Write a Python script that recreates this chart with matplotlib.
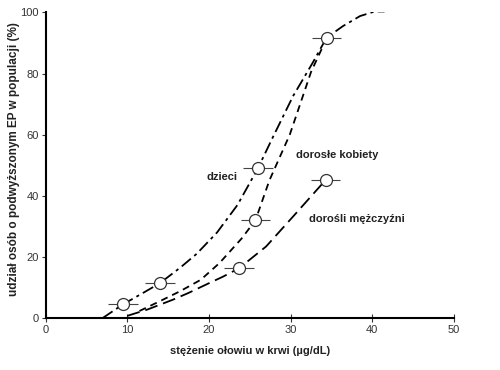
import matplotlib
matplotlib.use("Agg")
import matplotlib.pyplot as plt

# measured points (mean blood lead, share with raised EP) with horizontal spread
POINT_X = [9.5, 14.0, 23.7, 25.7, 26.0, 34.3, 34.4]
POINT_Y = [4.5, 11.4, 16.3, 32.0, 49.0, 45.2, 91.7]
POINT_XERR = [1.8, 1.8, 1.8, 1.8, 1.8, 1.8, 1.8]

# curves
CHILD_X = [7.0, 9.5, 12.0, 14.0, 16.5, 18.5, 21.0, 23.5, 26.0, 27.8, 30.3, 32.7, 34.4, 36.4, 38.5, 40.3, 41.5]
CHILD_Y = [0.0, 4.5, 8.3, 11.4, 16.5, 21.0, 28.0, 37.0, 49.0, 59.0, 72.6, 83.5, 91.7, 95.5, 98.8, 100.3, 100.3]

WOMEN_X = [11.5, 14.0, 16.5, 19.0, 21.3, 24.0, 25.7, 27.4, 29.9, 31.5, 32.5, 33.8]
WOMEN_Y = [2.3, 5.5, 8.8, 12.5, 18.0, 26.0, 32.0, 45.0, 60.0, 72.6, 80.5, 88.0]

MEN_X = [10.0, 12.5, 15.6, 17.5, 19.7, 21.7, 23.7, 27.0, 30.3, 34.3]
MEN_Y = [0.7, 2.8, 6.0, 8.2, 11.0, 13.5, 16.3, 23.4, 33.2, 45.2]

X_TICKS = [0, 10, 20, 30, 40, 50]
Y_TICKS = [0, 20, 40, 60, 80, 100]

plt.rcParams["font.family"] = ["Liberation Sans", "DejaVu Sans"]

fig = plt.figure(figsize=(5.0, 3.7), dpi=100)
ax = fig.add_axes([0.091, 0.1405, 0.817, 0.826])

line_kw = dict(color="black", linewidth=1.3, solid_capstyle="butt")
ax.plot(CHILD_X, CHILD_Y, dashes=(6.6, 2.4, 1.7, 2.4), **line_kw)
ax.plot(WOMEN_X, WOMEN_Y, dashes=(3.9, 2.8), **line_kw)
ax.plot(MEN_X, MEN_Y, dashes=(7.2, 3.3), **line_kw)

ax.errorbar(POINT_X, POINT_Y, xerr=POINT_XERR, fmt="o", markersize=8.6,
            markerfacecolor="white", markeredgecolor="#333333", markeredgewidth=0.9,
            ecolor="#444444", elinewidth=0.8, capsize=0, zorder=5)

text_kw = dict(fontsize=8, fontweight="bold", color="#222222")
ax.text(19.7, 46.2, "dzieci", va="center", ha="left", **text_kw)
ax.text(30.7, 53.4, "dorosłe kobiety", va="center", ha="left", **text_kw)
ax.text(32.3, 32.5, "dorośli mężczyźni", va="center", ha="left", **text_kw)

ax.set_xlim(0, 50)
ax.set_ylim(0, 100)
ax.set_xticks(X_TICKS)
ax.set_yticks(Y_TICKS)
ax.tick_params(axis="x", direction="inout", length=6, width=0.8, labelsize=8,
               colors="#333333", pad=2)
ax.tick_params(axis="y", direction="out", length=3, width=0.8, labelsize=8,
               colors="#333333", pad=2)

for side in ["top", "right"]:
    ax.spines[side].set_visible(False)
ax.spines["left"].set_linewidth(1.5)
ax.spines["bottom"].set_linewidth(1.5)

ax.set_xlabel("stężenie ołowiu w krwi (µg/dL)", fontsize=8, fontweight="bold",
              color="#222222", labelpad=8)
ax.set_ylabel("udział osób o podwyższonym EP w populacji (%)", fontsize=8.5,
              fontweight="bold", color="#222222", labelpad=5)
ax.yaxis.set_label_coords(-0.063, 0.52)

fig.savefig("out.png", dpi=100)
